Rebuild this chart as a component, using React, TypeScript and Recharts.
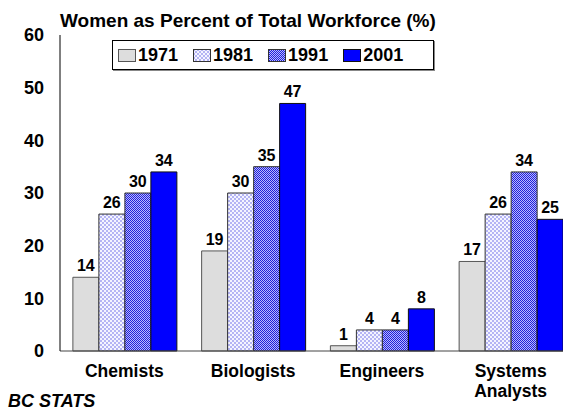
import React from 'react';
import { BarChart, Bar, XAxis, YAxis, LabelList } from 'recharts';

const categories = ['Chemists', 'Biologists', 'Engineers', 'Systems Analysts'];
const years = ['1971', '1981', '1991', '2001'];
const v1971 = [14, 19, 1, 17];
const v1981 = [26, 30, 4, 26];
const v1991 = [30, 35, 4, 34];
const v2001 = [34, 47, 8, 25];
const yTicks = [0, 10, 20, 30, 40, 50, 60];

const FONT = '"Liberation Sans", Arial, sans-serif';

const fills: Record<string, string> = {
  '1971': '#DDDDDD',
  '1981': 'url(#pat1981)',
  '1991': 'url(#pat1991)',
  '2001': '#0000FF',
};
const strokes: Record<string, string> = {
  '1971': '#555555',
  '1981': '#333333',
  '1991': '#333333',
  '2001': '#111111',
};

const data = categories.map((name, i) => ({
  name,
  '1971': v1971[i],
  '1981': v1981[i],
  '1991': v1991[i],
  '2001': v2001[i],
}));

const CatTick = (props: any) => {
  const { x, y, payload } = props;
  const lines = String(payload.value).split(' ');
  return (
    <text x={x} y={y} textAnchor="middle" fontFamily={FONT} fontWeight="bold" fontSize={17.5} fill="#000">
      {lines.map((l, i) => (
        <tspan key={l} x={x} dy={i === 0 ? 18 : 20}>
          {l}
        </tspan>
      ))}
    </text>
  );
};

// legend drawn by hand, placed like the original box
const LegendBox = () => (
  <div
    style={{
      position: 'absolute',
      left: 112,
      top: 40,
      boxSizing: 'border-box',
      border: '1px solid #000',
      boxShadow: '1px 1px 0 #888',
      width: 322,
      height: 30,
      display: 'flex',
      alignItems: 'center',
      fontFamily: FONT,
      fontWeight: 'bold',
      fontSize: 18,
      background: '#fff',
    }}
  >
    {years.map((y) => (
      <div key={y} style={{ display: 'flex', alignItems: 'center', marginLeft: 5, marginRight: 10 }}>
        <svg width={18} height={13} style={{ marginRight: 2 }}>
          <rect x={0.5} y={0.5} width={17} height={12} fill={fills[y]} stroke={strokes[y]} />
        </svg>
        <span>{y}</span>
      </div>
    ))}
  </div>
);

export default function App() {
  return (
    <div style={{ position: 'absolute', left: 0, top: 0, width: 563, height: 411, overflow: 'hidden', background: '#fff' }}>
      <div style={{ position: 'absolute', left: 0, top: 0 }}>
        <BarChart
          width={600}
          height={411}
          data={data}
          margin={{ top: 35, right: 25, bottom: 30, left: 0 }}
          barCategoryGap="10%"
          barGap={0}
        >
          <defs>
            <pattern id="pat1981" width={4} height={4} patternUnits="userSpaceOnUse">
              <rect width={4} height={4} fill="#F4F4FF" />
              <rect x={0} y={0} width={2} height={2} fill="#B4B4F4" />
              <rect x={2} y={2} width={2} height={2} fill="#B4B4F4" />
            </pattern>
            <pattern id="pat1991" width={2} height={2} patternUnits="userSpaceOnUse">
              <rect width={2} height={2} fill="#B8B8FF" />
              <rect x={0} y={0} width={1} height={1} fill="#2020D8" />
              <rect x={1} y={1} width={1} height={1} fill="#2020D8" />
            </pattern>
          </defs>
          <XAxis
            dataKey="name"
            height={30}
            tickLine={false}
            axisLine={{ stroke: '#444' }}
            tick={<CatTick />}
            interval={0}
          />
          <YAxis
            domain={[0, 60]}
            ticks={yTicks}
            width={60}
            tickLine={false}
            axisLine={{ stroke: '#000' }}
            tick={{ fontFamily: FONT, fontWeight: 'bold', fontSize: 18, fill: '#000' }}
            tickMargin={10}
          />
          {years.map((y) => (
            <Bar key={y} dataKey={y} fill={fills[y]} stroke={strokes[y]} strokeWidth={1} isAnimationActive={false}>
              <LabelList
                dataKey={y}
                position="top"
                offset={6}
                fill="#000"
                fontFamily={FONT}
                fontWeight="bold"
                fontSize={16}
              />
            </Bar>
          ))}
        </BarChart>
      </div>
      <div
        style={{
          position: 'absolute',
          left: 60,
          top: 10,
          fontFamily: FONT,
          fontWeight: 'bold',
          fontSize: 19,
          whiteSpace: 'nowrap',
        }}
      >
        Women as Percent of Total Workforce (%)
      </div>
      <LegendBox />
      <div
        style={{
          position: 'absolute',
          left: 8,
          top: 391,
          fontFamily: FONT,
          fontWeight: 'bold',
          fontStyle: 'italic',
          fontSize: 18,
        }}
      >
        BC STATS
      </div>
    </div>
  );
}
